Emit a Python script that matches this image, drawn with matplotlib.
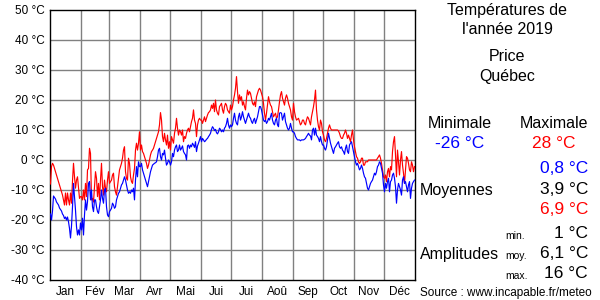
import matplotlib
matplotlib.use("Agg")
import matplotlib.pyplot as plt
import numpy as np

plt.rcParams['font.family'] = ['Liberation Sans', 'DejaVu Sans']

# Daily maximum temperatures (°C), 2019, per month
tmax_jan = [-8, -2.2, -1.1, -1.7, -2.8, -3.9, -5, -6.1, -7.2, -8.3, -9.4, -10.6, -11.7, -13.3, -15, -11,
            -15, -11, -13.3, -15, -11, -14.4, -7, -1.1, -5.6, -9.4, -6.7, -5.6, -9.4, -12.8, -12.2]
tmax_feb = [-12.2, -13.3, -10, -13.3, -7.8, -12.2, -3.3, -2.8, 3.9, 2.2, -13.3, -12.8, -14, -8.9,
            -3.9, -6.1, -12.2, -7.8, -13.3, -6.7, -1.1, -8.9, -11.7, -6.7, -9.4, -10.6, -6.7, -3.9]
tmax_mar = [-7.8, -7.2, -6.7, -5, -4.4, -8.9, -10.6, -11.7, -8.9, -6.1, -3.3, -2.2, -1.1, 0.6, 3.3, 4.4,
            -3.9, -6.1, -6.7, 0.6, -1.1, -5.6, -7.2, -7.8, -5, -2.8, 3.3, 5.6, 3.3, 5.6, 9.4]
tmax_apr = [3.3, 5, 2.8, 2.2, 1.1, 0, -1.1, -2.8, -1.7, 0, 1.7, 2.8, 3.3, 3.9, 5, 6.1, 7.2, 8.3, 9.4,
            11.7, 15.8, 13.3, 7.8, 6.1, 8.9, 6.7, 5, 8.3, 3.9, 6.1]
tmax_may = [3.3, 7.8, 6.7, 5.6, 8.9, 10.6, 13.9, 10.6, 8.3, 10, 9.4, 8.3, 10, 6.1, 7.8, 7.2, 8.9, 10,
            10.6, 9.4, 11.1, 12.8, 13.9, 16.7, 13.3, 12.2, 7.8, 11.7, 13.3, 13.9, 13.3]
tmax_jun = [13.3, 12.2, 13.3, 14.4, 12.8, 13.9, 15, 15.8, 16.1, 16.7, 18.3, 17.2, 18.9, 16.1, 20, 16.7,
            15.6, 15, 17.8, 18.3, 18.9, 16.7, 15.6, 17.8, 18.9, 18.3, 16.7, 16.1, 15.6, 18.3]
tmax_jul = [16.7, 17.8, 20, 21.7, 23.9, 27.8, 22.8, 18.9, 21.7, 20, 21.1, 18.3, 19.4, 17.8, 16.7, 20.6,
            23.3, 21.7, 22.8, 22.2, 20.6, 18.9, 18.3, 19.4, 17.8, 21.1, 22.2, 23.3, 23.9, 23.3, 22.2]
tmax_aug = [21.1, 18.9, 15.6, 13.3, 15.6, 18.3, 21.1, 19.4, 18.3, 17.8, 16.1, 14.4, 15, 15.6, 13.9, 14.4,
            16.7, 19.4, 21.7, 22.8, 20.6, 19.4, 18.3, 20.6, 21.7, 20.6, 18.9, 17.8, 16.7, 14.4, 13.3]
tmax_sep = [18.9, 16.1, 14.4, 13.3, 13.6, 13.9, 12.8, 11.7, 12.2, 13.3, 13.3, 12.2, 11.7, 13.3, 14.4,
            13.9, 12.8, 11.7, 14.4, 16.1, 17.8, 20, 23.3, 16.7, 13.3, 11.1, 10, 13.3, 12.2, 9.4]
tmax_oct = [8.3, 6.7, 6.1, 7.2, 8.9, 10.6, 11.7, 10.6, 10, 10, 10, 10, 10, 10, 10, 9.7, 8.9, 7.8, 7.2,
            7.2, 8.3, 8.9, 10, 8.9, 7.2, 8.3, 7.2, 6.1, 8.3, 10, 6.7]
tmax_nov = [4.4, 2.8, 1.1, 0.6, -0.6, -1.1, -0.6, 0.6, 0.6, -1.7, -1.7, -0.6, -0.6, -0.6, 0, 0, 0, 0,
            0, 0, 0, 0, 0, 0.6, 1.1, 1.7, 0.6, -1.1, -3.3, -5.6]
tmax_dec = [-6.1, -5, -7.2, -3.9, -2.8, -5.6, -2.2, -3.3, 2.8, 6.1, 7.8, 1.7, -5.6, 3.3, -0.6, -5, 0,
            2.8, -1.7, -4.4, -7.8, -3.3, 1.1, 0.6, -1.1, -3.3, -3.9, -0.6, -1.7, -3.9, -2.2]

# Daily minimum temperatures (°C), 2019, per month
tmin_jan = [-18, -20, -17, -12, -12.5, -13, -14, -14.5, -15, -16, -16.5, -17, -18, -18.5, -19.5, -19,
            -20, -19, -20.6, -22.8, -26, -22, -15.6, -7.8, -12.2, -16.7, -22.2, -25, -23.3, -25, -21]
tmin_feb = [-23.3, -19.4, -25, -18.3, -13.3, -16.7, -13.9, -7.8, -7.2, -13.3, -10, -15.6, -17.2, -13.3,
            -13.3, -15.6, -17.2, -17.8, -15.6, -13.3, -10, -12.8, -14.4, -10, -9.4, -15.6, -18.3, -18.9]
tmin_mar = [-17.2, -16.7, -16.1, -14.4, -15, -16.1, -15.6, -13.3, -12.2, -11.1, -10.6, -9.4, -8.3, -7.8,
            -6.7, -5.6, -6.7, -8.3, -10, -11.1, -10.6, -11.1, -10, -10.6, -9.4, -13.3, -6.7, -2.2, -5.6,
            -0.6, -2.2]
tmin_apr = [-2.2, -1.1, -3.3, -4.4, -5.6, -6.7, -7.8, -8.9, -7.2, -5.6, -3.9, -2.8, -1.7, -1.4, -1.1,
            -0.9, -0.6, 1.1, 3.3, 3.9, 1.1, 0, 2.2, 1.7, 3.3, 0.6, -1.7, -1.1, 0, -0.6]
tmin_may = [-1.7, -0.6, 2.2, 1.1, 3.3, 4.4, 5, 2.8, 3.3, 5, 3.3, 3.9, 4.7, 2.8, 2.2, 1.7, 0, 4.7, 5, 3.9,
            5, 4.4, 5.6, 5, 4.2, 6.1, 2.8, 4.7, 5.6, 6.7, 7.8]
tmin_jun = [6.1, 7.2, 6.7, 6.1, 6.4, 6.9, 7.2, 7.8, 8.3, 8.9, 10.2, 11.1, 10.6, 9.8, 10.2, 9.1, 8.7, 9.4,
            10.6, 10.2, 9.4, 10, 9.4, 10.6, 11.1, 12.2, 13.9, 11.7, 10.6, 11.7]
tmin_jul = [11.1, 11.7, 13.9, 15.6, 13.3, 12.2, 11.7, 14.4, 15.6, 13.3, 14.4, 16.1, 14.4, 13.3, 12.2,
            13.3, 14.4, 15.6, 14.4, 13.9, 12.8, 12.2, 13.3, 13.9, 12.2, 13.3, 14.4, 16.1, 17.8, 17.8, 16.7]
tmin_aug = [15, 13.3, 12.8, 13.3, 12.2, 12.8, 13.9, 13.3, 14.4, 15.6, 13.3, 12.2, 11.7, 13.3, 13.9, 11.7,
            11.1, 15.6, 15.8, 15.6, 13.3, 14.4, 15.6, 12.8, 11.7, 10.6, 10, 10.6, 12.2, 10.6, 9.4]
tmin_sep = [9.4, 8.9, 7.8, 7.2, 6.7, 6.7, 6.7, 6.4, 6.7, 6.7, 6.7, 6.9, 7.2, 7.8, 8.3, 8.9, 8.3, 8, 6.7,
            10, 10.6, 8.3, 10.6, 8.3, 7.8, 7.2, 6.1, 7.8, 6.1, 5]
tmin_oct = [5, 3.9, 3.3, 4.4, 6.7, 8.9, 7.2, 5.6, 4.4, 3.3, 2.2, 3.9, 4.4, 5, 5.6, 6.1, 4.4, 3.9, 4.4, 3.3,
            2.8, 1.9, 3.9, 5, 2.8, 2.2, 5, 5.6, 6.1, 4.4, 2.8]
tmin_nov = [1.1, -0.6, -1.7, -1.1, -2.2, -3.3, -2.8, -1.7, -2.8, -4.4, -5.6, -6.1, -7.8, -9.4, -10, -8.9,
            -7.8, -7.2, -6.7, -5.6, -4.4, -5, -3.9, -2.2, -1.7, -0.6, -1.1, -2.8, -4.4, -8.3]
tmin_dec = [-10.6, -7.8, -9.4, -7.2, -6.1, -10.6, -7.2, -6.7, -5, -4.4, -6.1, -8.9, -14.4, -10, -7.8,
            -8.9, -10, -11.7, -6.7, -5.6, -7.8, -7.2, -8.9, -10.6, -8.3, -7.2, -12.8, -9.4, -7.8, -7.2, -6.7]

month_labels = ['Jan', 'Fév', 'Mar', 'Avr', 'Mai', 'Jui', 'Jui', 'Aoû', 'Sep', 'Oct', 'Nov', 'Déc']
month_days = [31, 28, 31, 30, 31, 30, 31, 31, 30, 31, 30, 31]
y_ticks = [-40, -30, -20, -10, 0, 10, 20, 30, 40, 50]

tmax = np.array(tmax_jan + tmax_feb + tmax_mar + tmax_apr + tmax_may + tmax_jun +
                tmax_jul + tmax_aug + tmax_sep + tmax_oct + tmax_nov + tmax_dec)
tmin = np.array(tmin_jan + tmin_feb + tmin_mar + tmin_apr + tmin_may + tmin_jun +
                tmin_jul + tmin_aug + tmin_sep + tmin_oct + tmin_nov + tmin_dec)
days = np.arange(len(tmax)) + 0.5

fig = plt.figure(figsize=(6, 3), dpi=100)
ax = fig.add_axes([50 / 600, 1 - 280 / 300, 365 / 600, 270 / 300])

month_starts = np.cumsum([0] + month_days)
for ms in month_starts[1:-1]:
    ax.axvline(ms, color='#808080', lw=1, zorder=1)
for yt in y_ticks[1:-1]:
    ax.axhline(yt, color='#808080', lw=1, zorder=1)

ax.plot(days, tmax, color='#ff0000', lw=0.85, zorder=3)
ax.plot(days, tmin, color='#0000ff', lw=0.85, zorder=4)

ax.set_xlim(0, 365)
ax.set_ylim(-40, 50)
ax.set_yticks(y_ticks)
ax.set_yticklabels([f'{v} °C' for v in y_ticks], fontsize=8.5)
mid = (month_starts[:-1] + month_starts[1:]) / 2
ax.set_xticks(mid)
ax.set_xticklabels(month_labels, fontsize=8.5)
ax.tick_params(length=0, pad=4)
for s in ax.spines.values():
    s.set_color('black')
    s.set_linewidth(1)


def t(x, y, s, ha='center', size=11, color='black'):
    fig.text(x / 600, 1 - y / 300, s, ha=ha, va='center', fontsize=size, color=color)


t(507, 10, 'Températures de', size=11.5)
t(507, 30, "l'année 2019", size=11.5)
t(507, 57, 'Price', size=11.5)
t(507, 77, 'Québec', size=11.5)
t(460, 124, 'Minimale', size=11.5)
t(554, 124, 'Maximale', size=11.5)
t(460, 144, '-26 °C', color='#0000ff', size=12.5)
t(554, 144, '28 °C', color='#ff0000', size=12.5)
t(588, 168, '0,8 °C', ha='right', color='#0000ff', size=12.5)
t(420, 190, 'Moyennes', ha='left', size=11.5)
t(588, 189, '3,9 °C', ha='right', size=12.5)
t(588, 209, '6,9 °C', ha='right', color='#ff0000', size=12.5)
t(505, 236, 'min.', ha='left', size=7.5)
t(588, 233, '1 °C', ha='right', size=12.5)
t(420, 255, 'Amplitudes', ha='left', size=11.5)
t(505, 256, 'moy.', ha='left', size=7.5)
t(588, 253, '6,1 °C', ha='right', size=12.5)
t(505, 276, 'max.', ha='left', size=7.5)
t(588, 273, '16 °C', ha='right', size=12.5)
t(420, 293, 'Source : www.incapable.fr/meteo', ha='left', size=8.5)

fig.savefig('out.png', dpi=100)
